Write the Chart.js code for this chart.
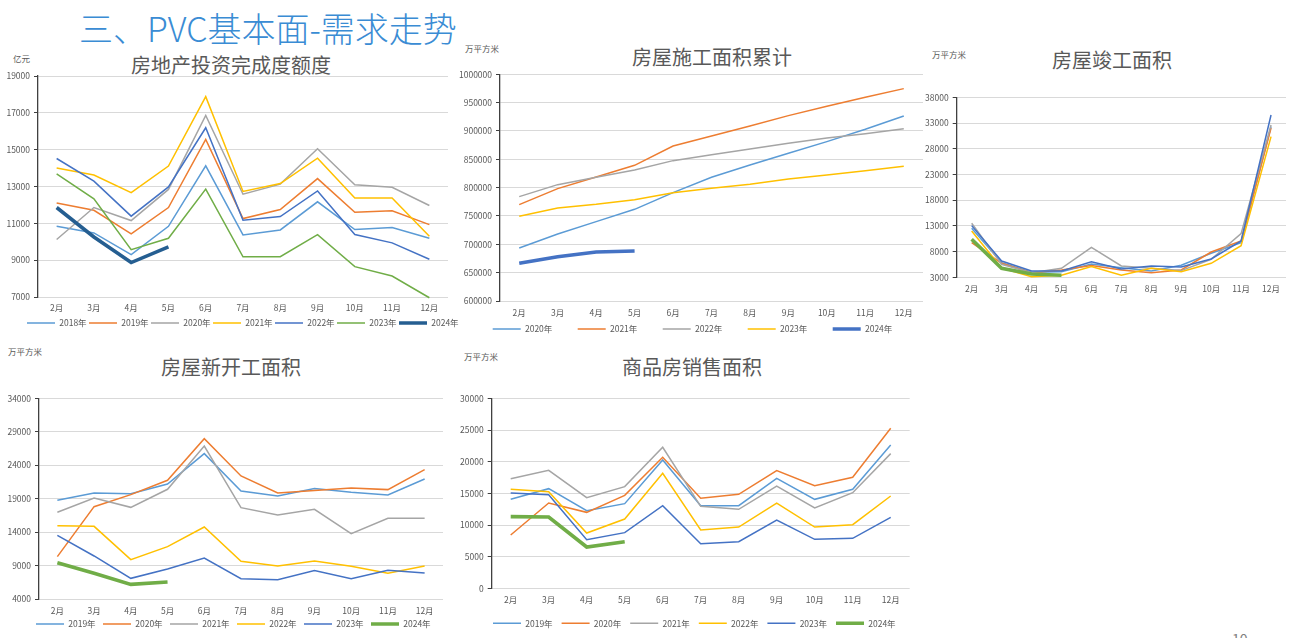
<!DOCTYPE html>
<html><head><meta charset="utf-8">
<script src="https://cdn.jsdelivr.net/npm/chart.js@4.4.1/dist/chart.umd.min.js"></script>
<style>
html,body{margin:0;padding:0;width:1306px;height:638px;overflow:hidden;background:#fff;font-family:"Noto Sans CJK SC","Noto Sans",sans-serif;position:relative;}
canvas{position:absolute;}
.t{position:absolute;color:#595959;font-size:20px;line-height:24px;text-align:center;white-space:nowrap;width:400px;}
.u{position:absolute;color:#595959;font-size:8.5px;line-height:10px;white-space:nowrap;}
#hdr{position:absolute;left:79px;top:8px;font-size:34px;line-height:40px;color:#3A8CD4;white-space:nowrap;font-weight:300;}
#pg{position:absolute;left:1232px;top:630px;font-size:14px;line-height:16px;color:#7f7f7f;}
</style></head>
<body>
<div id="hdr">三、PVC基本面-需求走势</div>
<div class="t" style="left:31px;top:53px;">房地产投资完成度额度</div>
<div class="t" style="left:512px;top:45px;">房屋施工面积累计</div>
<div class="t" style="left:912px;top:48px;">房屋竣工面积</div>
<div class="t" style="left:31px;top:355px;">房屋新开工面积</div>
<div class="t" style="left:492px;top:355px;">商品房销售面积</div>
<div class="u" style="left:13px;top:53px;">亿元</div>
<div class="u" style="left:465px;top:43px;">万平方米</div>
<div class="u" style="left:932px;top:49px;">万平方米</div>
<div class="u" style="left:8px;top:346px;">万平方米</div>
<div class="u" style="left:464px;top:351px;">万平方米</div>
<div id="pg">10</div>
<canvas id="c1"></canvas>
<canvas id="c2"></canvas>
<canvas id="c3"></canvas>
<canvas id="c4"></canvas>
<canvas id="c5"></canvas>
<script>
// ---------- data ----------
const months = ['2月','3月','4月','5月','6月','7月','8月','9月','10月','11月','12月'];

// 房地产投资完成度额度 (亿元)
const invYears = ['2018年','2019年','2020年','2021年','2022年','2023年','2024年'];
const inv2018 = [10840,10480,9300,10840,14120,10370,10640,12170,10660,10770,10190];
const inv2019 = [12110,11710,10430,11860,15560,11260,11750,13430,11600,11680,10930];
const inv2020 = [10120,11860,11150,12840,16860,12580,13130,15050,13090,12960,11970];
const inv2021 = [14000,13620,12670,14110,17880,12730,13160,14540,12380,12380,10300];
const inv2022 = [14520,13290,11390,12980,16190,11170,11370,12760,10390,9940,9050];
const inv2023 = [13690,12330,9570,10190,12860,9180,9190,10390,8650,8140,6960];
const inv2024 = [11860,10260,8870,9720];

// 房屋施工面积累计 (万平方米)
const conYears = ['2020年','2021年','2022年','2023年','2024年'];
const con2020 = [693530,718240,740000,761770,791180,818240,840000,860590,881180,902940,926470];
const con2021 = [770000,798240,818820,839410,873530,891180,908820,927060,943530,959410,974710];
const con2022 = [784120,805290,818240,831180,847650,858240,868240,878240,887650,895290,904120];
const con2023 = [749410,764120,770590,778820,791180,798820,805880,815290,822350,830000,837650];
const con2024 = [666470,678240,686470,688240];

// 房屋竣工面积 (万平方米)
const cmpYears = ['2019年','2020年','2021年','2022年','2023年','2024年'];
const cmp2019 = [12530,5850,3970,4100,5590,4880,4230,5330,7670,9740,32300];
const cmp2020 = [9740,5720,3900,4420,5270,4420,3900,4420,7920,10060,32040];
const cmp2021 = [13500,5530,3900,4750,8830,5200,4750,4300,6500,11490,32620];
const cmp2022 = [12010,4810,3130,3390,5070,3390,4750,4100,5720,9150,30350];
const cmp2023 = [13050,6170,4230,4230,6040,4620,5200,5010,6560,10060,34560];
const cmp2024 = [10390,4750,3650,3390];

// 房屋新开工面积 (万平方米)
const newYears = ['2019年','2020年','2021年','2022年','2023年','2024年'];
const new2019 = [18750,19850,19750,21190,25730,20150,19400,20500,19950,19550,21940];
const new2020 = [10330,17800,19600,21740,27970,22390,19850,20200,20590,20350,23340];
const new2021 = [16960,19100,17700,20400,26870,17650,16560,17400,13770,16060,16060];
const new2022 = [14960,14860,9880,11820,14760,9630,8930,9680,8880,7840,8930];
const new2023 = [13520,10430,7090,8480,10130,7040,6890,8240,7040,8290,7890];
const new2024 = [9430,7840,6190,6540];

// 商品房销售面积 (万平方米)
const salYears = ['2019年','2020年','2021年','2022年','2023年','2024年'];
const sal2019 = [14080,15760,12300,13400,20280,13080,13080,17390,14080,15660,22650];
const sal2020 = [8460,13500,12030,14710,20700,14240,14870,18600,16240,17550,25270];
const sal2021 = [17340,18650,14340,16080,22280,12980,12510,16180,12720,15130,21280];
const sal2022 = [15660,15290,8770,10980,18180,9250,9720,13500,9720,10090,14610];
const sal2023 = [15080,14820,7720,8830,13080,7090,7410,10820,7780,7930,11240];
const sal2024 = [11350,11300,6570,7410];

// ---------- styles ----------
const C_LB = '#5B9BD5', C_OR = '#ED7D31', C_GR = '#A5A5A5', C_GD = '#FFC000',
      C_BL = '#4472C4', C_GN = '#70AD47', C_NV = '#255E91';
const FS = 8.5;
const FAM = '"Noto Sans CJK SC","Noto Sans",sans-serif';
Chart.defaults.font.family = FAM;
Chart.defaults.font.size = FS;
Chart.defaults.color = '#595959';

function makeChart(id, g, names, series, colors, thickIdx, yMin, yMax, yStep) {
  const cv = document.getElementById(id);
  const m = document.createElement('canvas').getContext('2d');
  m.font = FS + 'px ' + FAM;
  const tw = m.measureText(names[0]).width;
  const itemW = 28 + FS / 2 + tw;
  const p = Math.max(1, g.spacing - itemW);
  const lh = FS * 1.2;
  const xPad = g.xLabelY - g.plotB - lh / 2;
  const legH = FS + p + 10;
  const ch = Math.ceil(g.plotB + xPad + lh + 2 + legH - g.cy);
  const xH = g.cy + ch - legH - g.plotB;
  const padT = g.plotT - g.cy;
  const yW = g.plotL - g.cx;
  const rW = g.cx + g.cw - g.plotR;
  cv.width = g.cw; cv.height = ch;
  cv.style.left = g.cx + 'px'; cv.style.top = g.cy + 'px';
  cv.style.width = g.cw + 'px'; cv.style.height = ch + 'px';
  const n = names.length;
  const datasets = names.map((nm, i) => ({
    label: nm,
    data: series[i],
    borderColor: colors[i],
    backgroundColor: colors[i],
    borderWidth: i === thickIdx ? 3.6 : 1.5,
    pointRadius: 0,
    pointHoverRadius: 0,
    tension: 0,
    fill: false,
    clip: false,
    order: n - i,
    yAxisID: 'y'
  }));
  const legendPos = {
    id: 'legendPos',
    beforeDraw(chart) {
      const lg = chart.legend;
      if (!lg) return;
      lg.left = g.legendX - p - g.cx;
      lg.right = lg.left + 3000;
      lg.top = g.legendY - p - FS / 2 - g.cy;
      lg.bottom = lg.top + legH;
    }
  };
  return new Chart(cv, {
    type: 'line',
    data: { labels: months, datasets },
    plugins: [legendPos],
    options: {
      responsive: false,
      maintainAspectRatio: false,
      animation: false,
      devicePixelRatio: 1,
      layout: { padding: { top: padT, left: 0, right: 0, bottom: 0 } },
      plugins: {
        title: { display: false },
        tooltip: { enabled: false },
        legend: {
          display: true,
          position: 'bottom',
          align: 'start',
          labels: {
            usePointStyle: true,
            pointStyle: 'line',
            pointStyleWidth: 28,
            boxWidth: 28,
            padding: p,
            color: '#595959',
            font: { size: FS, family: FAM },
            sort: (a, b) => a.datasetIndex - b.datasetIndex
          }
        }
      },
      scales: {
        x: {
          type: 'category',
          offset: true,
          grid: { display: false, drawTicks: false },
          border: { display: false },
          ticks: { padding: xPad, autoSkip: false, maxRotation: 0, color: '#595959', font: { size: FS } },
          afterFit: s => { s.height = xH; }
        },
        y: {
          type: 'linear',
          position: 'left',
          min: yMin, max: yMax,
          ticks: { stepSize: yStep, padding: 4, color: '#595959', font: { size: FS },
                   callback: v => String(v) },
          grid: { color: '#D9D9D9', lineWidth: 1, drawTicks: true, tickLength: 4, tickColor: '#404040' },
          border: { display: true, color: '#404040', width: 1.3 },
          afterFit: s => { s.width = yW; }
        },
        yR: {
          type: 'linear',
          position: 'right',
          display: true,
          grid: { display: false, drawTicks: false },
          border: { display: false },
          ticks: { display: false },
          afterFit: s => { s.width = rW; }
        }
      }
    }
  });
}

makeChart('c1',
  {cx:0, cy:58, cw:475, plotL:38, plotR:448, plotT:76, plotB:297, xLabelY:308, legendY:323, legendX:27, spacing:62},
  invYears, [inv2018, inv2019, inv2020, inv2021, inv2022, inv2023, inv2024],
  [C_LB, C_OR, C_GR, C_GD, C_BL, C_GN, C_NV], 6, 7000, 19000, 2000);

makeChart('c2',
  {cx:455, cy:58, cw:472, plotL:500, plotR:923, plotT:74.3, plotB:301, xLabelY:313, legendY:329, legendX:492.7, spacing:85},
  conYears, [con2020, con2021, con2022, con2023, con2024],
  [C_LB, C_OR, C_GR, C_GD, C_BL], 4, 600000, 1000000, 50000);

makeChart('c3',
  {cx:915, cy:80, cw:391, plotL:956.7, plotR:1286, plotT:97.3, plotB:277.3, xLabelY:289, legendY:329, legendX:931.7, spacing:62},
  cmpYears, [cmp2019, cmp2020, cmp2021, cmp2022, cmp2023, cmp2024],
  [C_LB, C_OR, C_GR, C_GD, C_BL, C_GN], 5, 3000, 38000, 5000);

makeChart('c4',
  {cx:0, cy:380, cw:460, plotL:39, plotR:443, plotT:398.3, plotB:599, xLabelY:611, legendY:624, legendX:36, spacing:67},
  newYears, [new2019, new2020, new2021, new2022, new2023, new2024],
  [C_LB, C_OR, C_GR, C_GD, C_BL, C_GN], 5, 4000, 34000, 5000);

makeChart('c5',
  {cx:455, cy:380, cw:460, plotL:491.7, plotR:909.7, plotT:398.3, plotB:588.7, xLabelY:600, legendY:623.3, legendX:493, spacing:68.6},
  salYears, [sal2019, sal2020, sal2021, sal2022, sal2023, sal2024],
  [C_LB, C_OR, C_GR, C_GD, C_BL, C_GN], 5, 0, 30000, 5000);
</script>
</body></html>
